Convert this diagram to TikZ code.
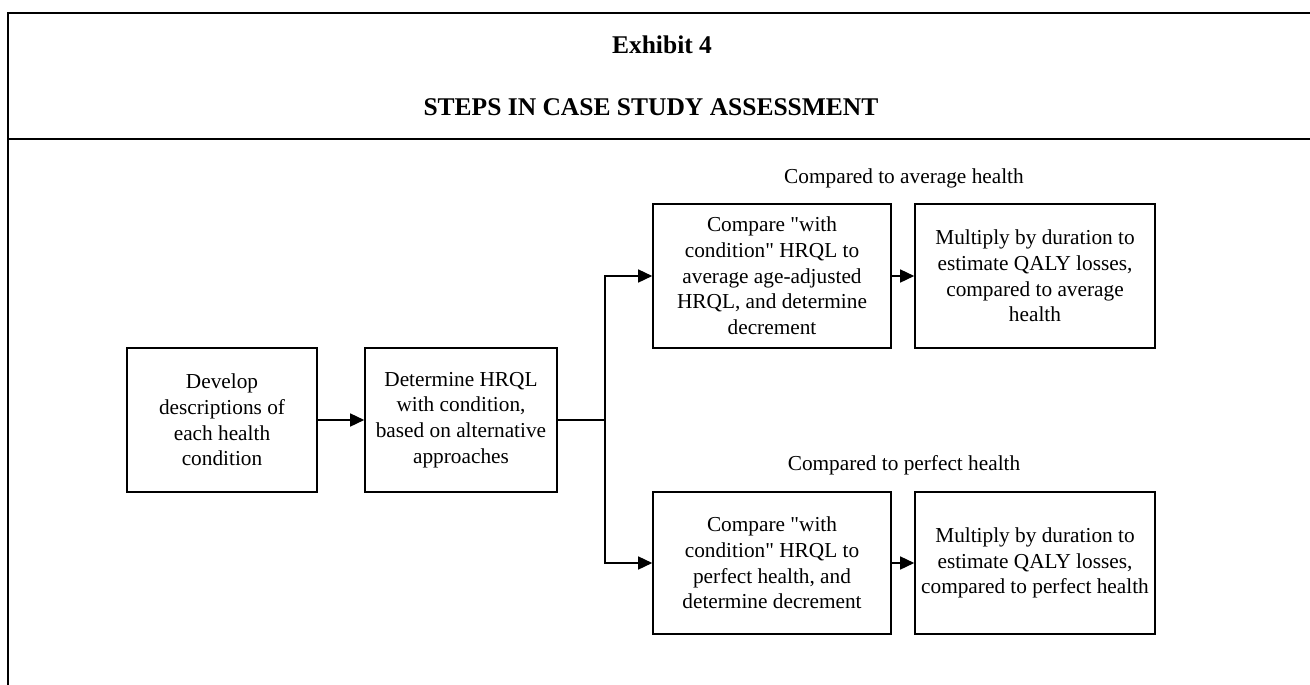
\documentclass[tikz,border=0pt]{standalone}
\usepackage{fontspec}
\setmainfont{Liberation Serif}
\usetikzlibrary{arrows.meta}
\begin{document}
\begin{tikzpicture}[x=1pt,y=-1pt,
  stepbox/.style={draw,line width=1.6pt,rectangle,inner sep=0pt,align=center,
    font={\fontsize{21.3}{25.7}\selectfont}},
  lbl/.style={inner sep=0pt,anchor=base,font={\fontsize{21.3}{25.7}\selectfont}},
  ttl/.style={inner sep=0pt,anchor=base,font={\fontsize{25.5}{30}\selectfont\bfseries}},
  frame/.style={line width=1.7pt},
  conn/.style={line width=1.5pt},
  arr/.style={conn,-{Triangle[length=14pt,width=13pt]}}]
\useasboundingbox (0,0) rectangle (1310,685);
% frame
\draw[frame] (1310,13) -- (8,13) -- (8,685);
\draw[frame] (8,139) -- (1310,139);
% titles
\node[ttl] (t1) at (662,54) {Exhibit 4};
\node[ttl] (t2) at (651,115) {STEPS IN CASE STUDY ASSESSMENT};
% labels
\node[lbl] (la) at (904,183) {Compared to average health};
\node[lbl] (lp) at (904,470) {Compared to perfect health};
% boxes
\node[stepbox,minimum width=190pt,minimum height=144pt] (b1) at (222,420)
  {Develop\\descriptions of\\each health\\condition};
\node[stepbox,minimum width=192pt,minimum height=144pt] (b2) at (461,420)
  {Determine HRQL\\with condition,\\based on alternative\\approaches};
\node[stepbox,minimum width=238pt,minimum height=144pt] (b3) at (772,276)
  {Compare \textquotedbl with\\condition\textquotedbl{} HRQL to\\average age-adjusted\\HRQL, and determine\\decrement};
\node[stepbox,minimum width=240pt,minimum height=144pt] (b4) at (1035,276)
  {Multiply by duration to\\estimate QALY losses,\\compared to average\\health};
\node[stepbox,minimum width=238pt,minimum height=142pt] (b5) at (772,563)
  {Compare \textquotedbl with\\condition\textquotedbl{} HRQL to\\perfect health, and\\determine decrement};
\node[stepbox,minimum width=240pt,minimum height=142pt] (b6) at (1035,563)
  {Multiply by duration to\\estimate QALY losses,\\compared to perfect health};
% connectors
\coordinate (j) at (605,420);
\draw[arr] (b1.east) -- (b2.west);
\draw[conn] (b2.east) -- (j);
\draw[arr] (j) |- (b3.west);
\draw[arr] (j) |- (b5.west);
\draw[arr] (b3.east) -- (b4.west);
\draw[arr] (b5.east) -- (b6.west);
\end{tikzpicture}
\end{document}
